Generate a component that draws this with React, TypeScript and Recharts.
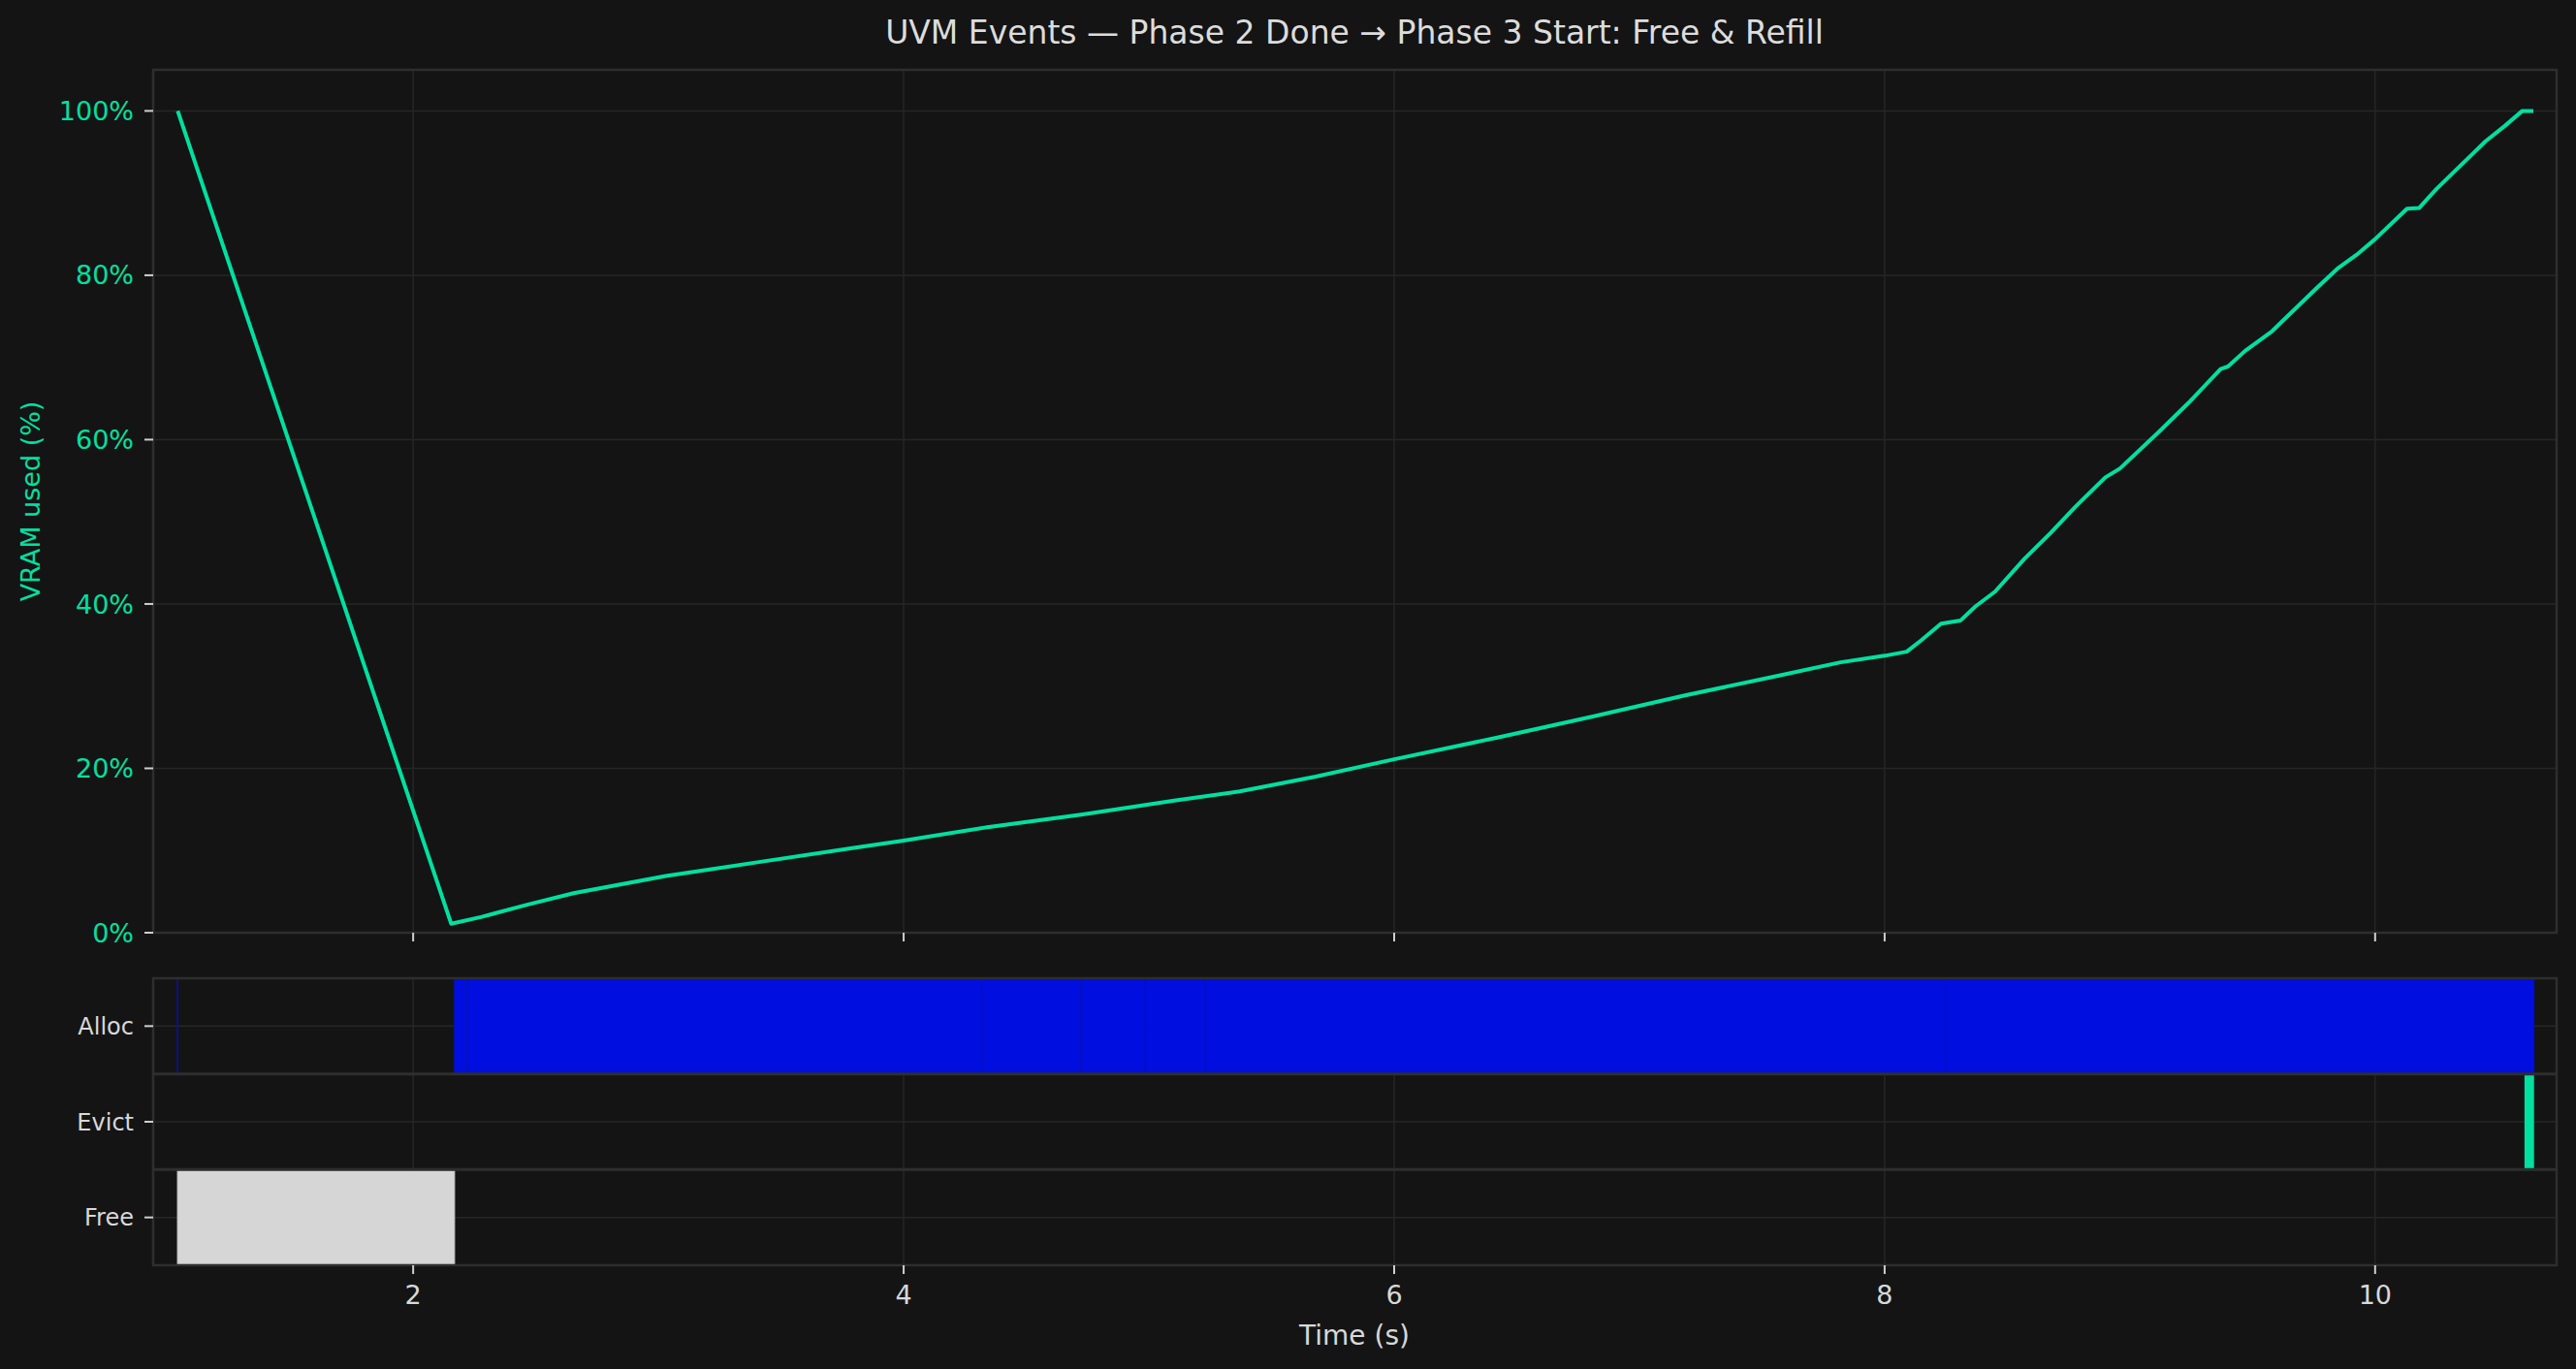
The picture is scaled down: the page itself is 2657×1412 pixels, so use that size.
import React from 'react';
import {
  LineChart,
  Line,
  ComposedChart,
  XAxis,
  YAxis,
  CartesianGrid,
  ReferenceArea,
  ReferenceLine,
} from 'recharts';

// VRAM usage trace (time in s, percent used)
const TIME = [
  1.04, 2.155, 2.276, 2.465, 2.654, 3.03, 3.41, 3.79, 4.0, 4.355, 4.73, 5.11, 5.37, 5.68, 6.0,
  6.43, 6.81, 7.19, 7.57, 7.82, 8.0, 8.09, 8.15, 8.23, 8.31, 8.37, 8.45, 8.57, 8.675, 8.78, 8.9,
  8.96, 9.12, 9.24, 9.37, 9.4, 9.47, 9.58, 9.76, 9.85, 9.925, 10.0, 10.13, 10.18, 10.25, 10.45,
  10.53, 10.6, 10.645,
];
const VRAM = [
  100.0, 1.1, 1.9, 3.4, 4.8, 6.9, 8.6, 10.3, 11.2, 12.9, 14.4, 16.1, 17.2, 19.0, 21.1,
  23.8, 26.3, 28.9, 31.3, 32.9, 33.7, 34.2, 35.6, 37.6, 38.0, 39.7, 41.5, 45.5, 48.6, 51.9, 55.4,
  56.5, 61.0, 64.5, 68.6, 68.9, 70.8, 73.2, 78.4, 80.9, 82.5, 84.4, 88.1, 88.2, 90.5, 96.3,
  98.2, 100.0, 100.0,
];

// event rows, bottom to top
const ROWS = ['Free', 'Evict', 'Alloc'];

const ALLOC_START = [1.038, 2.167, 2.219, 4.32, 4.72, 4.985, 5.23, 8.249];
const ALLOC_END = [1.04, 2.219, 4.32, 4.72, 4.985, 5.23, 8.249, 10.648];
const EVICT_START = [10.609];
const EVICT_END = [10.648];
const FREE_START = [1.039];
const FREE_END = [2.169];

const X_TICKS = [2, 4, 6, 8, 10];
const Y_TICKS = [0, 20, 40, 60, 80, 100];

const X_DOMAIN: [number, number] = [0.94, 10.74];
const Y_DOMAIN: [number, number] = [0, 105];
const ROW_DOMAIN: [number, number] = [-0.5, 2.5];
const BAR_HALF = 0.49;

const BG = '#141414';
const GRID = '#262626';
const SPINE = '#2e2e2e';
const GREEN = '#00e0a0';
const TEXT = '#d8d8d8';
const FONT = '"DejaVu Sans", sans-serif';

const lineData = TIME.map((t, i) => ({ t, vram: VRAM[i] }));

// one point per event start, so the event chart has data for its axes
const eventData = [
  ...FREE_START.map((t) => ({ t, row: 0 })),
  ...EVICT_START.map((t) => ({ t, row: 1 })),
  ...ALLOC_START.map((t) => ({ t, row: 2 })),
].sort((a, b) => a.t - b.t);

const EmptyTick = () => <g />;

export default function App(): React.ReactElement {
  return (
    <div
      style={{
        position: 'fixed',
        left: 0,
        top: 0,
        width: 2657,
        height: 1412,
        background: BG,
        fontFamily: FONT,
      }}
    >
      <div style={{ position: 'absolute', left: 0, top: 0 }}>
        <LineChart
          width={2657}
          height={1000}
          data={lineData}
          margin={{ top: 72, right: 20, left: 0, bottom: 0 }}
        >
          <CartesianGrid stroke={GRID} strokeWidth={1.5} />
          <ReferenceArea
            x1={X_DOMAIN[0]}
            x2={X_DOMAIN[1]}
            y1={Y_DOMAIN[0]}
            y2={Y_DOMAIN[1]}
            fill="none"
            stroke={SPINE}
            strokeWidth={2.5}
            ifOverflow="visible"
          />
          <XAxis
            dataKey="t"
            type="number"
            domain={X_DOMAIN}
            ticks={X_TICKS}
            allowDataOverflow
            height={38}
            axisLine={false}
            tickSize={9}
            tickLine={{ stroke: '#cfcfcf', strokeWidth: 2 }}
            tick={<EmptyTick />}
          />
          <YAxis
            type="number"
            domain={Y_DOMAIN}
            ticks={Y_TICKS}
            allowDataOverflow
            width={158}
            axisLine={false}
            tickSize={9}
            tickMargin={11}
            tickLine={{ stroke: '#cfcfcf', strokeWidth: 2 }}
            tickFormatter={(v: number) => `${v}%`}
            tick={{ fill: GREEN, fontSize: 27, fontFamily: FONT }}
          />
          <Line
            dataKey="vram"
            type="linear"
            stroke={GREEN}
            strokeWidth={4}
            strokeLinejoin="round"
            dot={false}
            isAnimationActive={false}
          />
        </LineChart>
      </div>

      <div style={{ position: 'absolute', left: 0, top: 1000 }}>
        <ComposedChart
          width={2657}
          height={412}
          data={eventData}
          margin={{ top: 9, right: 20, left: 0, bottom: 0 }}
        >
          <CartesianGrid stroke={GRID} strokeWidth={1.5} />
          <XAxis
            dataKey="t"
            type="number"
            domain={X_DOMAIN}
            ticks={X_TICKS}
            allowDataOverflow
            height={107}
            axisLine={false}
            tickSize={9}
            tickMargin={12}
            tickLine={{ stroke: '#cfcfcf', strokeWidth: 2 }}
            tick={{ fill: TEXT, fontSize: 27, fontFamily: FONT }}
          />
          <YAxis
            type="number"
            domain={ROW_DOMAIN}
            ticks={[0, 1, 2]}
            allowDataOverflow
            width={158}
            axisLine={false}
            tickSize={9}
            tickMargin={11}
            tickLine={{ stroke: '#cfcfcf', strokeWidth: 2 }}
            tickFormatter={(v: number) => ROWS[v] ?? ''}
            tick={{ fill: TEXT, fontSize: 24, fontFamily: FONT }}
          />
          <ReferenceLine y={0.5} stroke={SPINE} strokeWidth={3} />
          <ReferenceLine y={1.5} stroke={SPINE} strokeWidth={3} />
          {FREE_START.map((s, i) => (
            <ReferenceArea
              key={`free-${i}`}
              x1={s}
              x2={FREE_END[i]}
              y1={0 - BAR_HALF}
              y2={0 + BAR_HALF}
              fill="#d6d6d6"
              fillOpacity={1}
              stroke="#c4c4c4"
              strokeWidth={1}
            />
          ))}
          {EVICT_START.map((s, i) => (
            <ReferenceArea
              key={`evict-${i}`}
              x1={s}
              x2={EVICT_END[i]}
              y1={1 - BAR_HALF}
              y2={1 + BAR_HALF}
              fill={GREEN}
              fillOpacity={1}
            />
          ))}
          {ALLOC_START.map((s, i) => (
            <ReferenceArea
              key={`alloc-${i}`}
              x1={s}
              x2={ALLOC_END[i]}
              y1={2 - BAR_HALF}
              y2={2 + BAR_HALF}
              fill="#000fdf"
              fillOpacity={1}
              stroke="#0a12a8"
              strokeOpacity={0.7}
              strokeWidth={1}
            />
          ))}
          <ReferenceArea
            x1={X_DOMAIN[0]}
            x2={X_DOMAIN[1]}
            y1={ROW_DOMAIN[0]}
            y2={ROW_DOMAIN[1]}
            fill="none"
            stroke={SPINE}
            strokeWidth={2.5}
            ifOverflow="visible"
          />
          <Line
            dataKey="row"
            stroke="none"
            dot={false}
            activeDot={false}
            isAnimationActive={false}
          />
        </ComposedChart>
      </div>

      <svg
        width={2657}
        height={1412}
        style={{ position: 'absolute', left: 0, top: 0, pointerEvents: 'none' }}
      >
        <text
          x={1397}
          y={45}
          textAnchor="middle"
          fill="#dcdcdc"
          fontSize={33}
          fontFamily={FONT}
        >
          UVM Events — Phase 2 Done → Phase 3 Start: Free &amp; Refill
        </text>
        <text
          x={1397}
          y={1387}
          textAnchor="middle"
          fill={TEXT}
          fontSize={28}
          fontFamily={FONT}
        >
          Time (s)
        </text>
        <text
          x={31}
          y={517}
          textAnchor="middle"
          dominantBaseline="central"
          transform="rotate(-90 31 517)"
          fill={GREEN}
          fontSize={27}
          fontFamily={FONT}
        >
          VRAM used (%)
        </text>
      </svg>
    </div>
  );
}
